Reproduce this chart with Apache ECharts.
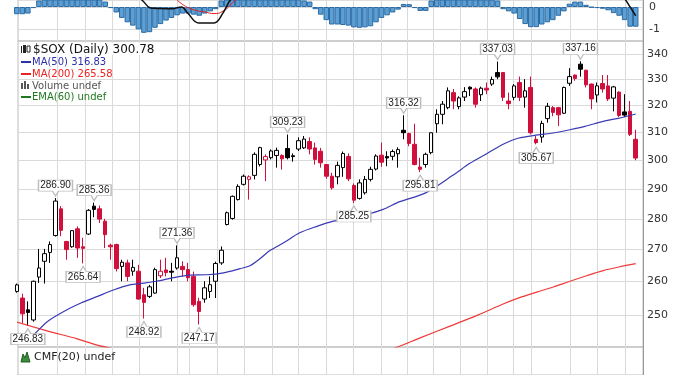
<!DOCTYPE html>
<html><head><meta charset="utf-8">
<script src="https://cdn.jsdelivr.net/npm/echarts@6/dist/echarts.min.js"></script>
<style>html,body{margin:0;padding:0;background:#fff}#c{width:685px;height:375px}</style>
</head><body><div id="c"></div>
<script>
// ---- price data (candle index 0..112) ----
const opens  = [257.0,255.0,251.5,248.5,261.4,266.3,269.1,274.5,283.3,272.6,270.9,276.7,270.9,275.0,284.2,283.3,279.2,271.4,271.6,264.7,265.8,263.2,263.2,256.0,255.5,256.5,261.8,263.6,263.2,264.2,264.7,263.7,261.6,254.0,254.7,257.0,260.1,265.8,278.1,280.1,286.4,291.6,293.3,294.7,298.5,300.1,300.9,301.7,301.7,304.2,301.6,304.0,304.4,306.7,304.4,303.2,298.5,294.4,294.2,297.4,301.3,291.2,286.8,288.7,293.3,296.9,301.8,301.3,301.4,302.3,310.8,309.6,305.7,297.6,298.5,302.7,313.2,316.7,319.2,324.9,319.6,323.2,327.0,326.3,324.1,326.6,328.2,332.7,332.7,321.7,323.1,328.8,323.2,326.9,307.5,308.3,315.1,319.2,319.2,317.1,328.5,331.7,336.0,333.6,328.2,324.0,328.4,327.5,322.8,325.1,317.6,317.8,307.5];
const closes = [259.0,250.3,250.7,260.1,264.2,268.7,271.6,285.9,276.2,270.0,276.1,270.5,270.4,282.8,283.1,279.9,274.8,270.9,264.0,266.0,261.6,264.4,254.7,253.7,258.4,263.7,263.2,262.8,262.9,267.4,263.7,261.2,253.0,251.0,258.1,259.05,265.6,269.8,282.0,287.5,290.9,294.4,294.2,302.1,304.5,301.3,303.3,303.5,300.5,300.9,301.3,307.0,307.6,304.0,300.3,299.1,294.4,290.4,298.2,302.4,293.5,286.2,292.1,293.3,296.8,301.5,299.3,300.8,303.1,303.8,309.9,306.0,298.5,296.8,302.1,309.9,316.7,320.5,325.6,321.7,322.9,325.3,326.3,320.5,326.6,325.9,330.0,331.0,323.1,320.7,327.5,323.1,325.6,309.9,306.3,313.3,319.7,317.4,316.5,326.9,331.1,330.4,334.0,327.9,322.5,327.5,326.3,322.5,327.1,316.3,316.4,309.3,300.78];
const lows   = [256.6,247.6,246.83,248.0,259.6,259.4,265.8,274.2,274.3,266.8,270.6,267.4,265.64,274.7,280.5,278.6,270.5,266.8,263.1,260.1,260.1,261.8,254.5,248.92,255.0,256.3,261.1,261.6,260.1,263.7,261.6,260.1,252.4,247.17,253.6,255.0,255.0,265.2,277.8,279.7,286.1,291.2,286.4,293.3,297.8,292.7,300.3,297.4,296.7,300.3,299.5,303.3,304.0,302.1,298.5,297.4,293.5,289.8,291.6,294.2,292.7,285.25,286.4,288.1,292.6,296.4,297.7,297.9,300.0,297.4,307.5,305.0,298.2,295.81,297.4,302.1,309.9,313.0,318.6,318.6,318.6,321.7,323.6,319.2,321.7,324.3,327.5,330.1,321.7,318.6,322.0,321.7,319.2,309.3,305.67,306.3,313.6,316.0,312.4,316.8,327.5,329.5,331.1,326.9,318.6,321.2,324.9,321.7,317.8,315.7,315.7,308.7,300.0];
const highs  = [259.4,256.3,254.0,260.3,270.2,270.2,272.6,286.90,284.2,272.8,276.3,277.5,273.8,283.2,285.36,284.4,280.0,271.9,271.9,266.8,266.8,266.8,265.2,258.1,259.0,264.3,266.8,267.4,265.8,271.36,266.3,265.8,263.1,255.1,260.1,261.6,266.2,271.0,282.4,287.8,291.6,295.0,294.7,302.8,304.8,302.1,303.9,304.5,302.1,309.23,302.4,308.2,308.7,308.2,306.3,304.4,298.5,295.6,299.5,303.1,302.4,291.9,293.3,294.5,297.7,302.1,306.3,303.2,303.8,304.6,316.32,309.9,313.2,300.9,302.7,309.9,318.6,321.7,326.9,326.3,323.5,327.0,327.3,326.9,327.2,328.8,331.1,337.03,332.7,324.9,328.2,331.1,330.1,331.1,308.7,314.3,321.0,319.8,319.5,327.2,334.4,331.9,337.16,333.8,328.4,328.8,331.7,331.7,327.5,325.4,324.3,321.7,311.0];

// ---- moving averages, read at [candle index, value] ----
const ma50Idx = [0.2,2.5,5.5,8.5,11.6,14.6,17.6,20.6,22.3,25.3,28.3,31.3,34.4,37.4,40.4,42.2,44.0,45.8,48.2,51.2,54.3,57.3,60.3,63.3,66.3,69.3,73.9,78.9,82.0,85.1,88.0,90.7,94.3,96.7,100.1,102.8,106.1,108.8,112];
const ma50Val = [242.2,243.5,248.0,251.0,253.5,255.5,257.5,259.05,259.4,260.1,261.2,262.0,262.1,262.7,264.0,264.9,267.1,269.7,272.1,275.4,277.5,279.2,280.3,281.4,283.1,285.7,288.6,294.7,298.9,302.4,305.7,307.9,309.1,309.7,311.0,312.2,314.1,315.2,316.83];
const ma200LeftIdx = [-0.5,5.5,10.8,14.4,18.0];
const ma200LeftVal = [248.1,245.3,243.1,241.3,240.0];
const ma200RightIdx = [66.0,68.4,72.97,78.4,83.5,88.0,91.1,94.1,97.1,100.1,103.1,106.1,109.1,112];
const ma200RightVal = [239.5,240.4,243.3,246.7,250.0,253.2,255.2,256.8,258.35,260.1,261.8,263.4,264.6,265.58];

// ---- top indicator panel ----
const histVals = [-0.33,-0.33,-0.3,-0.05,0.3,0.5,0.6,0.8,0.8,0.7,0.7,0.6,0.5,0.5,0.5,0.4,0.25,-0.05,-0.25,-0.5,-0.7,-0.85,-1.02,-1.18,-1.15,-0.95,-0.78,-0.62,-0.5,-0.38,-0.3,-0.3,-0.35,-0.4,-0.3,-0.2,-0.1,0.3,0.5,0.6,0.7,0.7,0.7,0.7,0.7,0.6,0.6,0.6,0.5,0.5,0.5,0.4,0.3,0.25,-0.1,-0.35,-0.6,-0.8,-0.8,-0.82,-0.85,-0.93,-0.95,-0.93,-0.88,-0.7,-0.5,-0.38,-0.25,-0.12,0.14,0.13,-0.05,-0.18,-0.18,0.3,0.5,0.6,0.7,0.7,0.7,0.7,0.6,0.6,0.5,0.5,0.4,0.3,-0.1,-0.2,-0.3,-0.55,-0.78,-0.92,-0.92,-0.8,-0.7,-0.6,-0.4,-0.2,0.15,0.25,0.25,0.1,-0.02,-0.05,-0.08,-0.15,-0.28,-0.4,-0.6,-0.9,-0.9];
const macdIdx = [21.5,23.0,24.2,26.0,28.2,29.2,29.8,31.0,32.9,35.7,37.3,38.4,39.5];
const macdVal = [0.6,0.23,-0.05,-0.07,-0.08,-0.02,0.0,-0.3,-0.73,-0.73,-0.28,0.23,0.6];
const macdRIdx = [109.5,110.4,112];
const macdRVal = [0.6,0.23,-0.4];
const sigIdx = [28.5,29.4,31.7,34.1,35.7,37.3,39.2,40.0];
const sigVal = [0.5,0.23,-0.1,-0.23,-0.3,-0.19,0.23,0.5];

// ---- ticks, grid positions, annotations ----
const priceTicks = [250,260,270,280,290,300,310,320,330,340];
const histTicks = [0,-1];
const vGridIdx = [7.3,12.3,17.2,22.2,29.0,31.2,36.3,41.1,46.2,51.0,56.0,60.9,65.9,70.6,75.4,80.3,85.2,89.9,93.1,100.1,105.0,110.1];
const highMarks = [[7,286.90],[14,285.36],[29,271.36],[49,309.23],[70,316.32],[87,337.03],[102,337.16]];
const lowMarks  = [[2,246.83],[12,265.64],[23,248.92],[33,247.17],[61,285.25],[73,295.81],[94,305.67]];

const RED = '#d10f3c', BLK = '#000', GRID = '#dadada';
const xMin = 0.217, xMax = 113.32;

const candleData = opens.map((o, i) => {
  const c = closes[i];
  const prev = i > 0 ? closes[i - 1] : o;
  const col = c >= prev ? BLK : RED;
  const fill = c > o ? '#fff' : col;
  return { value: [i, o, c, lows[i], highs[i]],
    itemStyle: { color: fill, color0: fill, borderColor: col, borderColor0: col } };
});
const pairs = (a, b) => a.map((x, k) => [x, b[k]]);

const gridLineStyle = { color: GRID, width: 1, type: 'solid' };
const font = '"DejaVu Sans", sans-serif';

const calloutHigh = 'path://M0,0 L34,0 L34,11 L20,11 L17,16 L14,11 L0,11 Z';
const calloutLow = 'path://M0,5 L14,5 L17,0 L20,5 L34,5 L34,16 L0,16 Z';
const markData = highMarks.map(m => ({ coord: m, name: m[1].toFixed(2), symbol: calloutHigh, symbolOffset: [0, -10], label: { offset: [0, -2.5] } }))
  .concat(lowMarks.map(m => ({ coord: m, name: m[1].toFixed(2), symbol: calloutLow, symbolOffset: [0, 11], label: { offset: [0, 2.5] } })));

const grids = [
  { left: 18, right: 42, top: -2, height: 43 },
  { left: 18, right: 42, top: 41, height: 306 },
  { left: 18, right: 42, top: 347, height: 40 }
];
const chart = echarts.init(document.getElementById('c'), null, { renderer: 'canvas' });
chart.setOption({
  animation: false,
  backgroundColor: '#fff',
  grid: grids.map(g => Object.assign({ show: true, borderColor: '#bdbdbd', borderWidth: 1, backgroundColor: 'transparent' }, g)),
  xAxis: [0, 1, 2].map(k => ({ type: 'value', gridIndex: k, min: xMin, max: xMax, show: false })),
  yAxis: [
    { type: 'value', gridIndex: 0, min: -1.553, max: 0.32, position: 'right',
      axisLine: { show: true, lineStyle: { color: '#999' } }, axisTick: { show: false }, axisLabel: { show: false }, splitLine: { show: false } },
    { type: 'log', gridIndex: 1, min: 240.7, max: 345.3, position: 'right',
      axisLine: { show: true, lineStyle: { color: '#999' } }, axisTick: { show: false }, axisLabel: { show: false }, splitLine: { show: false } },
    { type: 'value', gridIndex: 2, min: -1, max: 1, position: 'right',
      axisLine: { show: true, lineStyle: { color: '#999' } }, axisTick: { show: false }, axisLabel: { show: false }, splitLine: { show: false } }
  ],
  series: [
    { type: 'bar', xAxisIndex: 0, yAxisIndex: 0, barWidth: 5.5,
      data: histVals.map((v, i) => [i, v]),
      itemStyle: { color: '#5b9fd4', borderColor: '#2d6ba3', borderWidth: 1 },
      markLine: { silent: true, symbol: 'none', z: 1, lineStyle: gridLineStyle,
        label: { show: true, position: 'end', formatter: p => String(p.value), color: '#333', fontSize: 11, fontFamily: font, distance: 6 },
        data: histTicks.map(v => ({ yAxis: v })).concat(vGridIdx.map(v => ({ xAxis: v, label: { show: false } }))) } },
    { type: 'line', xAxisIndex: 0, yAxisIndex: 0, data: pairs(macdIdx, macdVal), symbol: 'none', smooth: 0.4,
      lineStyle: { color: '#111', width: 1.5 }, z: 4 },
    { type: 'line', xAxisIndex: 0, yAxisIndex: 0, data: pairs(macdRIdx, macdRVal), symbol: 'none', smooth: 0.4,
      lineStyle: { color: '#111', width: 1.5 }, z: 4 },
    { type: 'line', xAxisIndex: 0, yAxisIndex: 0, data: pairs(sigIdx, sigVal), symbol: 'none', smooth: 0.5,
      lineStyle: { color: '#e42222', width: 1 }, z: 3 },
    { type: 'candlestick', xAxisIndex: 1, yAxisIndex: 1, barWidth: 4, data: candleData,
      encode: { x: 0, y: [1, 2, 3, 4] },
      itemStyle: { borderWidth: 1 } },
    { type: 'line', xAxisIndex: 1, yAxisIndex: 1, data: pairs(ma200LeftIdx, ma200LeftVal), symbol: 'none', smooth: 0.3,
      lineStyle: { color: '#f03a3a', width: 1.2 } },
    { type: 'line', xAxisIndex: 1, yAxisIndex: 1, data: pairs(ma200RightIdx, ma200RightVal), symbol: 'none', smooth: 0.3,
      lineStyle: { color: '#f03a3a', width: 1.2 } },
    { type: 'line', xAxisIndex: 1, yAxisIndex: 1, data: pairs(ma50Idx, ma50Val), symbol: 'none', smooth: 0.3,
      lineStyle: { color: '#3a3ab4', width: 1.2 },
      markLine: { silent: true, symbol: 'none', z: 1, lineStyle: gridLineStyle,
        label: { show: true, position: 'end', formatter: p => String(p.value), color: '#333', fontSize: 11, fontFamily: font, distance: 4 },
        data: priceTicks.map(v => ({ yAxis: v })).concat(vGridIdx.map(v => ({ xAxis: v, label: { show: false } }))) },
      markPoint: { z: 6, silent: true, symbolSize: [34, 16], data: markData,
        itemStyle: { color: '#fff', borderColor: '#bdbdbd', borderWidth: 1 },
        label: { show: true, position: 'inside', formatter: '{b}', color: '#222', fontSize: 10, fontFamily: '"Liberation Sans", Arial, sans-serif' } } },
    { type: 'line', xAxisIndex: 2, yAxisIndex: 2, data: [[1, 0]], symbol: 'none', lineStyle: { opacity: 0 },
      markLine: { silent: true, symbol: 'none', z: 1, lineStyle: gridLineStyle, label: { show: false },
        data: vGridIdx.map(v => ({ xAxis: v })) } }
  ],
  graphic: [
    { type: 'rect', shape: { x: 19, y: 43, width: 141, height: 12 }, style: { fill: '#fff' }, z: 100 },
    { type: 'rect', shape: { x: 21, y: 46, width: 1, height: 7 }, style: { fill: '#222' }, z: 101 },
    { type: 'rect', shape: { x: 23, y: 45, width: 3, height: 8 }, style: { fill: '#222' }, z: 101 },
    { type: 'rect', shape: { x: 27, y: 46, width: 3, height: 6 }, style: { fill: '#fff', stroke: '#222', lineWidth: 1 }, z: 101 },
    { type: 'text', x: 33, y: 49.5, style: { text: '$SOX (Daily) 300.78', fill: '#111', font: '12px ' + font, verticalAlign: 'middle' }, z: 101 },
    { type: 'rect', shape: { x: 21, y: 61, width: 10, height: 2 }, style: { fill: '#2f2fa8' }, z: 101 },
    { type: 'text', x: 32, y: 62, style: { text: 'MA(50) 316.83', fill: '#2f2fa8', font: '10px ' + font, verticalAlign: 'middle' }, z: 101 },
    { type: 'rect', shape: { x: 21, y: 73, width: 10, height: 2 }, style: { fill: '#ee2020' }, z: 101 },
    { type: 'text', x: 32, y: 74, style: { text: 'MA(200) 265.58', fill: '#ee2020', font: '10px ' + font, verticalAlign: 'middle' }, z: 101 },
    { type: 'rect', shape: { x: 21, y: 83, width: 2, height: 6 }, style: { fill: '#555' }, z: 101 },
    { type: 'rect', shape: { x: 24, y: 81, width: 2, height: 8 }, style: { fill: '#555' }, z: 101 },
    { type: 'rect', shape: { x: 27, y: 84, width: 2, height: 5 }, style: { fill: '#555' }, z: 101 },
    { type: 'text', x: 32, y: 86, style: { text: 'Volume undef', fill: '#555', font: '10px ' + font, verticalAlign: 'middle' }, z: 101 },
    { type: 'rect', shape: { x: 21, y: 96, width: 10, height: 2 }, style: { fill: '#1f7a1f' }, z: 101 },
    { type: 'text', x: 32, y: 97, style: { text: 'EMA(60) undef', fill: '#1f7a1f', font: '10px ' + font, verticalAlign: 'middle' }, z: 101 },
    { type: 'polygon', shape: { points: [[21, 362], [23, 354], [25, 358], [27, 352], [30, 362]] }, style: { fill: '#3d8a3d', stroke: '#1f5f1f' }, z: 101 },
    { type: 'text', x: 34, y: 357, style: { text: 'CMF(20) undef', fill: '#222', font: '11px ' + font, verticalAlign: 'middle' }, z: 101 }
  ]
});
</script>
</body></html>
